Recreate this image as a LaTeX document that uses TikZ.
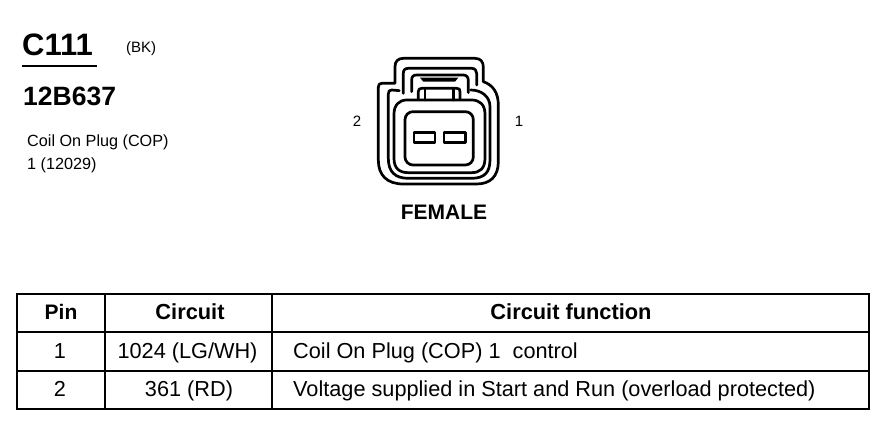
\documentclass[tikz,border=0pt]{standalone}
\usepackage{fontspec}
\setmainfont{Liberation Sans}
\newcommand{\fs}[1]{\fontsize{#1}{#1}\selectfont}
\tikzset{
  x=1pt,y=-1pt,
  lbl/.style={inner sep=0pt,anchor=base west,text=black},
  ctr/.style={inner sep=0pt,anchor=base,text=black},
  conn/.style={line width=2.7pt,line join=round,line cap=round,black},
  rule/.style={line width=2.4pt,black},
}
\begin{document}
\begin{tikzpicture}
\useasboundingbox[fill=white] (0,0) rectangle (894,432);
\node[lbl,font=\bfseries\fs{31}] (title) at (22,55) {C111};
\node[lbl,font=\fs{15}] (bk) at (126,52) {(BK)};
\coordinate (ula) at (22,66); \coordinate (ulb) at (97,66);
\draw[rule] (ula) -- (ulb);
\node[lbl,font=\bfseries\fs{26.5}] (part) at (23,105) {12B637};
\node[lbl,font=\fs{16.2}] (coil) at (27,146) {Coil On Plug (COP)};
\node[lbl,font=\fs{16.2}] (num) at (27,169) {1 (12029)};
\node[ctr,font=\fs{15}] (two) at (357,126) {2};
\node[ctr,font=\fs{15}] (one) at (519,126) {1};
\node[ctr,font=\bfseries\fs{21}] (fem) at (444,219) {FEMALE};
% connector, in 3x crop coordinates
\begin{scope}[shift={(340,40)},x=0.3333pt,y=-0.3333pt]
  \draw[conn] (125,130) -- (165,130) -- (165,80) .. controls (165,63) and (175,55) .. (190,55)
    -- (405,55) .. controls (422,55) and (430,65) .. (430,82) -- (430,125)
    .. controls (460,135) and (475,160) .. (475,195) -- (475,365)
    .. controls (475,410) and (450,432) .. (410,432) -- (190,432)
    .. controls (140,432) and (115,405) .. (115,360) -- (115,142) .. controls (115,134) and (118,130) .. (125,130) -- cycle;
  \draw[conn] (178,152) -- (155,150) .. controls (148,150) and (145,154) .. (145,162) -- (145,355)
    .. controls (145,395) and (165,415) .. (205,415) -- (395,415)
    .. controls (435,415) and (450,395) .. (450,360) -- (450,200)
    .. controls (450,170) and (425,150) .. (392,150);
  \draw[conn] (190,160) -- (190,100) .. controls (190,90) and (195,85) .. (205,85) -- (395,85)
    .. controls (405,85) and (410,92) .. (410,100) -- (410,135);
  \draw[conn] (215,155) -- (215,120) .. controls (215,110) and (220,105) .. (230,105) -- (370,105)
    .. controls (380,105) and (385,112) .. (385,122) -- (385,158);
  \fill[black] (240,113) -- (355,113) -- (345,125) -- (250,125) -- cycle;
  \draw[conn] (235,178) -- (235,155) .. controls (235,148) and (238,145) .. (245,145) -- (350,145)
    .. controls (358,145) and (360,148) .. (360,155) -- (360,178);
  \draw[conn] (255,147) -- (255,180);
  \draw[conn] (340,147) -- (340,180);
  \draw[conn] (200,180) -- (395,180) .. controls (420,180) and (435,195) .. (435,222) -- (435,355)
    .. controls (435,385) and (420,398) .. (395,398) -- (205,398)
    .. controls (178,398) and (162,385) .. (162,355) -- (162,222)
    .. controls (162,195) and (178,180) .. (200,180) -- cycle;
  \draw[conn,rounded corners=8pt] (195,215) rectangle (400,375);
  \draw[conn] (222,277) rectangle (285,307);
  \draw[conn] (312,277) rectangle (377,307);
\end{scope}
% table
\coordinate (tl) at (17,294); \coordinate (br) at (869,409);
\draw[rule] (tl) rectangle (br);
\coordinate (h1a) at (17,332); \coordinate (h1b) at (869,332);
\coordinate (h2a) at (17,371); \coordinate (h2b) at (869,371);
\coordinate (v1a) at (105,294); \coordinate (v1b) at (105,409);
\coordinate (v2a) at (272,294); \coordinate (v2b) at (272,409);
\draw[rule] (h1a) -- (h1b);
\draw[rule] (h2a) -- (h2b);
\draw[rule] (v1a) -- (v1b);
\draw[rule] (v2a) -- (v2b);
\node[ctr,font=\bfseries\fs{21}] (hpin) at (61,319) {Pin};
\node[ctr,font=\bfseries\fs{21.8}] (hcir) at (190,319) {Circuit};
\node[ctr,font=\bfseries\fs{21.8}] (hfun) at (571,319) {Circuit function};
\node[ctr,font=\fs{21.7}] (p1) at (60,358) {1};
\node[ctr,font=\fs{21.7}] (c1) at (187.5,358) {1024 (LG/WH)};
\node[lbl,font=\fs{21.7}] (f1) at (293,358) {Coil On Plug (COP) 1\ \ control};
\node[ctr,font=\fs{21.7}] (p2) at (60,396) {2};
\node[ctr,font=\fs{21.7}] (c2) at (189,396) {361 (RD)};
\node[lbl,font=\fs{21.7}] (f2) at (293,396) {Voltage supplied in Start and Run (overload protected)};
\end{tikzpicture}
\end{document}
